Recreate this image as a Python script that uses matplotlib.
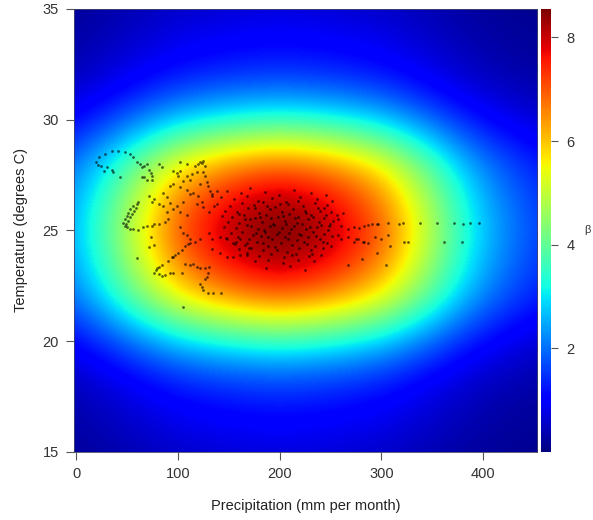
import numpy as np
import matplotlib
matplotlib.use("Agg")
import matplotlib.pyplot as plt

plt.rcParams['font.family'] = ['Liberation Sans', 'DejaVu Sans']

# response surface: marginal shape of beta along each climate axis
beta_peak = 8.55
precip_grid = [-25, 0, 25, 50, 75, 100, 125, 150, 175, 200, 225, 250,
               275, 300, 325, 350, 375, 400, 425, 450, 475]
precip_profile = [0.24, 0.32, 0.42, 0.55, 0.68, 0.80, 0.88, 0.94, 0.98, 1.00, 0.98, 0.94,
                  0.88, 0.80, 0.68, 0.55, 0.42, 0.32, 0.25, 0.20, 0.17]
temp_grid = list(range(14, 37))
temp_profile = [0.07, 0.085, 0.11, 0.14, 0.19, 0.28, 0.42, 0.60, 0.78, 0.90, 0.97, 1.00,
                0.97, 0.90, 0.78, 0.60, 0.42, 0.28, 0.19, 0.14, 0.11, 0.085, 0.07]

# observed sites (precipitation, temperature)
upper_loop = [(20, 28.1), (23, 28.3), (28, 28.45), (35, 28.6), (41, 28.6), (48, 28.55), (53, 28.45),
              (56, 28.3), (25, 27.9), (30, 27.85), (35, 27.75), (36, 27.65), (22, 27.95), (27, 27.7),
              (43, 27.4), (60, 28.1), (63, 28.0), (65, 27.85), (67, 27.9), (70, 28.0), (72, 27.75),
              (74, 27.6), (75, 27.45), (65, 27.4), (67, 27.4), (70, 27.3), (75, 27.3), (82, 28.0),
              (84, 27.85), (102, 28.1), (109, 28.0), (117, 27.9), (120, 28.0), (122, 28.1), (125, 28.15),
              (127, 27.9), (124, 28.05), (99, 27.6), (102, 27.7), (109, 27.45), (114, 27.55), (119, 27.65),
              (125, 27.65), (127, 27.45), (129, 27.2), (130, 27.0), (132, 26.8), (134, 26.55),
              (92, 27.0), (95, 27.1), (102, 26.95), (109, 26.85), (115, 26.7), (120, 26.55), (124, 26.3),
              (95, 27.7), (100, 27.45), (105, 27.25), (112, 27.3), (122, 27.1), (134, 26.65), (139, 26.8),
              (112, 26.65), (105, 26.3), (99, 26.1), (119, 26.2), (125, 26.05), (131, 25.85), (136, 26.1)]
left_arc = [(85, 26.7), (89, 26.5), (92, 26.25), (95, 25.95), (102, 25.85), (109, 25.7),
            (82, 26.2), (85, 26.1), (89, 25.85), (72, 26.55), (77, 26.4), (75, 26.3),
            (46, 25.35), (48, 25.5), (50, 25.65), (51, 25.8), (53, 25.95), (56, 26.1), (60, 26.2),
            (61, 26.3), (49, 25.3), (51, 25.45), (53, 25.6), (55, 25.75), (57, 25.9), (59, 26.0),
            (48, 25.2), (50, 25.15), (53, 25.05), (56, 25.05), (61, 25.0), (66, 25.15), (70, 25.2),
            (75, 25.2), (77, 25.3), (82, 25.3), (87, 25.4), (90, 25.5), (102, 25.15), (105, 24.9),
            (109, 24.8), (112, 24.6), (117, 24.5), (122, 24.6), (77, 24.35), (72, 24.25), (74, 24.7),
            (131, 24.9), (134, 24.6), (141, 24.7), (148, 24.6), (154, 24.45), (161, 24.6), (168, 24.45),
            (134, 24.15), (141, 24.0), (148, 23.8), (154, 23.8), (161, 23.9), (168, 24.0)]
lower_arc = [(60, 23.75), (77, 23.1), (79, 23.2), (80, 23.3), (82, 23.35), (84, 23.45),
             (90, 23.6), (94, 23.8), (95, 23.8), (97, 23.9), (100, 24.0), (104, 24.1), (107, 24.3),
             (110, 24.4), (112, 24.45), (92, 23.1), (95, 23.1), (104, 23.1), (82, 23.05), (84, 22.95),
             (87, 23.0), (107, 23.5), (112, 23.45), (115, 23.5), (119, 23.35), (122, 23.3), (127, 23.3),
             (131, 23.35), (122, 22.6), (124, 22.45), (125, 22.3), (127, 22.8), (129, 22.9),
             (130, 22.2), (135, 22.2), (142, 22.2), (130, 23.1), (105, 21.55)]
core = [(148, 26.8), (162, 26.7), (171, 26.9), (186, 26.75), (199, 26.6), (214, 26.85), (231, 26.7),
        (246, 26.6), (142, 26.5), (155, 26.4), (168, 26.55), (179, 26.35), (193, 26.45), (206, 26.3),
        (220, 26.5), (237, 26.4), (252, 26.35), (139, 26.2), (151, 26.1), (163, 26.25), (175, 26.15),
        (184, 26.3), (196, 26.05), (208, 26.2), (223, 26.1), (235, 26.25), (247, 26.15), (146, 25.9),
        (158, 25.85), (169, 26.0), (180, 25.8), (191, 25.95), (202, 25.85), (213, 25.95), (226, 25.8),
        (240, 25.9), (251, 25.85), (143, 25.65), (153, 25.6), (165, 25.7), (176, 25.55), (187, 25.7),
        (198, 25.6), (209, 25.75), (218, 25.6), (231, 25.7), (244, 25.55), (256, 25.7), (149, 25.4),
        (160, 25.35), (171, 25.5), (183, 25.4), (194, 25.3), (205, 25.45), (217, 25.35), (228, 25.5),
        (239, 25.4), (250, 25.3), (145, 25.15), (157, 25.1), (168, 25.25), (179, 25.05), (191, 25.2),
        (202, 25.1), (214, 25.2), (226, 25.05), (237, 25.15), (249, 25.2), (152, 24.9), (163, 24.95),
        (174, 24.8), (186, 24.95), (197, 24.85), (209, 24.9), (221, 24.8), (233, 24.95), (244, 24.85),
        (147, 24.65), (159, 24.7), (170, 24.6), (182, 24.75), (193, 24.6), (205, 24.7), (217, 24.55),
        (228, 24.7), (240, 24.6), (252, 24.75), (156, 24.4), (166, 24.35), (178, 24.5), (189, 24.3),
        (201, 24.45), (212, 24.35), (224, 24.5), (235, 24.3), (247, 24.45), (160, 24.15), (172, 24.2),
        (184, 24.1), (196, 24.25), (207, 24.05), (219, 24.2), (231, 24.1), (243, 24.2), (168, 23.9),
        (180, 23.85), (192, 23.95), (204, 23.8), (216, 23.95), (229, 23.85), (241, 23.9), (176, 23.6),
        (189, 23.65), (203, 23.55), (218, 23.65), (234, 23.6), (187, 23.3), (210, 23.4), (225, 23.2),
        (166, 25.5), (172, 25.2), (177, 24.9), (181, 25.6), (185, 25.0), (189, 24.7), (192, 25.55),
        (195, 25.25), (199, 24.95), (203, 25.65), (206, 25.3), (208, 24.6), (211, 25.05), (215, 25.55),
        (219, 24.85), (222, 25.3), (225, 25.9), (227, 24.4), (230, 25.15), (233, 25.6), (236, 24.75),
        (238, 26.0), (241, 25.25), (243, 24.5), (246, 25.7), (248, 25.0), (251, 24.3), (253, 25.45),
        (170, 24.2), (176, 26.0), (184, 24.45), (188, 26.1), (197, 24.1), (200, 26.2), (212, 23.9),
        (218, 26.35), (232, 23.95), (244, 26.0), (160, 25.75), (157, 24.5)]
tail = [(260, 25.2), (267, 25.05), (273, 25.15), (278, 25.1), (283, 25.2), (287, 25.25), (291, 25.3),
        (297, 25.3), (257, 24.8), (260, 24.6), (267, 24.7), (275, 24.6), (283, 24.5), (287, 24.45),
        (262, 25.8), (257, 25.5), (273, 24.5), (277, 24.6), (282, 24.5), (294, 24.7), (300, 24.6),
        (307, 24.8), (309, 24.3), (296, 24.0), (281, 23.7), (305, 23.45), (267, 23.45), (322, 24.5),
        (326, 24.5), (362, 24.5), (379, 24.5), (296, 25.3), (307, 25.35), (317, 25.3), (321, 25.35),
        (338, 25.35), (355, 25.35), (371, 25.35), (380, 25.3), (387, 25.35), (396, 25.35)]

beta = beta_peak * np.outer(temp_profile, precip_profile)
dp = precip_grid[1] - precip_grid[0]
dt = temp_grid[1] - temp_grid[0]

fig = plt.figure(figsize=(5.93, 5.2), dpi=100)
ax = fig.add_axes([0.1248, 0.1308, 0.7808, 0.8519])
im = ax.imshow(beta, origin='lower', aspect='auto', cmap='jet', vmin=0, vmax=beta_peak,
               interpolation='bicubic',
               extent=[precip_grid[0] - dp / 2, precip_grid[-1] + dp / 2,
                       temp_grid[0] - dt / 2, temp_grid[-1] + dt / 2])

sites = upper_loop + left_arc + lower_arc + core + tail
ax.scatter([p for p, t in sites], [t for p, t in sites], s=4, c='black', alpha=0.6,
           linewidths=0, zorder=3)

ax.set_xlim(-2, 453)
ax.set_ylim(15, 35)
ax.set_xticks([0, 100, 200, 300, 400])
ax.set_yticks([15, 20, 25, 30, 35])
ax.tick_params(direction='out', length=6, width=0.8, color='#555555', labelcolor='#333333',
               labelsize=10.5, pad=5)
for s in ax.spines.values():
    s.set_linewidth(0.6)
    s.set_color('#444466')
ax.set_xlabel('Precipitation (mm per month)', fontsize=10.5, color='#222222', labelpad=13)
ax.set_ylabel('Temperature (degrees C)', fontsize=10.5, color='#222222', labelpad=10)

cax = fig.add_axes([0.9123, 0.1308, 0.0169, 0.8519])
cbar = fig.colorbar(im, cax=cax, ticks=[2, 4, 6, 8])
cbar.outline.set_visible(False)
cbar.ax.tick_params(length=5, width=0.8, color='#555555', labelcolor='#333333',
                    labelsize=10.5, pad=6)
fig.text(0.99, 0.557, 'β', fontsize=8, color='#333333', ha='center', va='center')

fig.savefig('out.png', dpi=100, facecolor='white')
